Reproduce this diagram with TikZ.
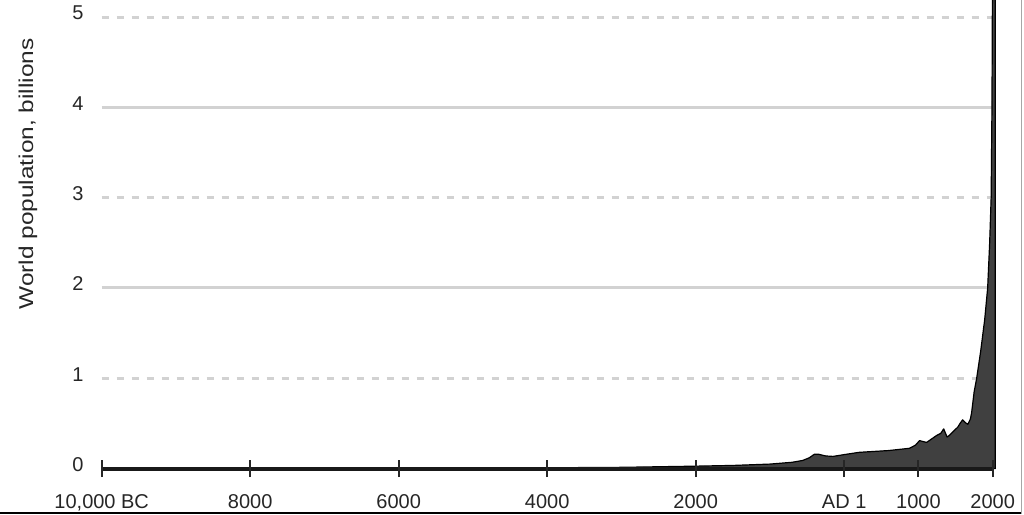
\documentclass[tikz,border=0pt]{standalone}
\usepackage{fontspec}
\setmainfont{Liberation Sans}
\usepackage{graphicx}

\begin{document}
\begin{tikzpicture}[x=1pt, y=1pt,
  lbl/.style = {inner sep=0pt, text=black!85, font=\fontsize{20}{24}\selectfont},
  gridsolid/.style = {draw=gray!35, line width=3pt},
  griddash/.style = {draw=gray!35, line width=3pt, dash pattern=on 7pt off 8pt},
  axisline/.style = {draw=black!90, line width=4pt},
  tickmark/.style = {draw=black!85, line width=2pt},
  pop/.style = {fill=black!75, draw=black, line width=1.2pt, line join=round}]
\useasboundingbox (0,0) rectangle (1024,514);
\clip (0,0) rectangle (1024,514);

\begin{scope}[shift={(844.2,45.4)}, x=0.07425pt, y=90.3pt]
% grid
\draw[griddash] (-10000,5) -- (2000,5);
\draw[gridsolid] (-10000,4) -- (2000,4);
\draw[griddash] (-10000,3) -- (2000,3);
\draw[gridsolid] (-10000,2) -- (2000,2);
\draw[griddash] (-10000,1) -- (2000,1);

% population curve
\filldraw[pop] plot coordinates {(-10000,0) (-10000,0.004) (-8000,0.005) (-6000,0.006)
  (-4000,0.009) (-3000,0.014) (-2000,0.027) (-1500,0.035) (-1000,0.05) (-700,0.07)
  (-560,0.09) (-470,0.12) (-400,0.16) (-350,0.16) (-250,0.14) (-150,0.135) (0,0.155)
  (200,0.18) (600,0.20) (880,0.225) (960,0.26) (1015,0.31) (1060,0.30) (1110,0.29)
  (1180,0.33) (1250,0.37) (1300,0.39) (1340,0.44) (1360,0.40) (1385,0.35) (1420,0.37)
  (1480,0.42) (1530,0.46) (1560,0.50) (1595,0.54) (1630,0.51) (1665,0.49) (1700,0.55)
  (1716,0.62) (1750,0.85) (1784,1.0) (1838,1.3) (1892,1.65) (1932,2.0) (1959,2.5)
  (1979,3.0) (1990,4.0) (1995,5.0) (2000,6.0) (2035,6.0) (2035,0)} -- cycle;

% axis and ticks
\coordinate (a0) at (-10000,0);
\coordinate (a1) at (2000,0);
\draw[axisline] (a0) -- (a1);
\draw[tickmark] (-10000,-0.094) -- (-10000,0.094);
\draw[tickmark] (-8000,-0.094) -- (-8000,0.094);
\draw[tickmark] (-6000,-0.094) -- (-6000,0.094);
\draw[tickmark] (-4000,-0.094) -- (-4000,0.094);
\draw[tickmark] (-2000,-0.094) -- (-2000,0.094);
\draw[tickmark] (0,-0.094) -- (0,0.094);
\draw[tickmark] (1000,-0.094) -- (1000,0.094);
\draw[tickmark] (2000,-0.094) -- (2000,0.094);

% labels
\node[lbl, anchor=north, yshift=-26pt] (x1) at (-10000,0) {10,000 BC};
\node[lbl, anchor=north, yshift=-26pt] (x2) at (-8000,0) {8000};
\node[lbl, anchor=north, yshift=-26pt] (x3) at (-6000,0) {6000};
\node[lbl, anchor=north, yshift=-26pt] (x4) at (-4000,0) {4000};
\node[lbl, anchor=north, yshift=-26pt] (x5) at (-2000,0) {2000};
\node[lbl, anchor=north, yshift=-26pt] (x6) at (0,0) {AD 1};
\node[lbl, anchor=north, yshift=-26pt] (x7) at (1000,0) {1000};
\node[lbl, anchor=north, yshift=-26pt] (x8) at (2000,0) {2000};

\node[lbl, anchor=east, xshift=-18pt, yshift=4pt] (y0) at (-10000,0) {0};
\node[lbl, anchor=east, xshift=-18pt, yshift=4pt] (y1) at (-10000,1) {1};
\node[lbl, anchor=east, xshift=-18pt, yshift=4pt] (y2) at (-10000,2) {2};
\node[lbl, anchor=east, xshift=-18pt, yshift=4pt] (y3) at (-10000,3) {3};
\node[lbl, anchor=east, xshift=-18pt, yshift=4pt] (y4) at (-10000,4) {4};
\node[lbl, anchor=east, xshift=-18pt, yshift=4pt] (y5) at (-10000,5) {5};
\end{scope}

\node[lbl, rotate=90] (ylab) at (28,340) {\scalebox{1.22}[1]{World population, billions}};

% frame
\draw[black, line width=1.5pt] (0,1) -- (1021.5,1);
\draw[gray!70, line width=1.2pt] (1021.5,0) -- (1021.5,514);
\end{tikzpicture}
\end{document}
